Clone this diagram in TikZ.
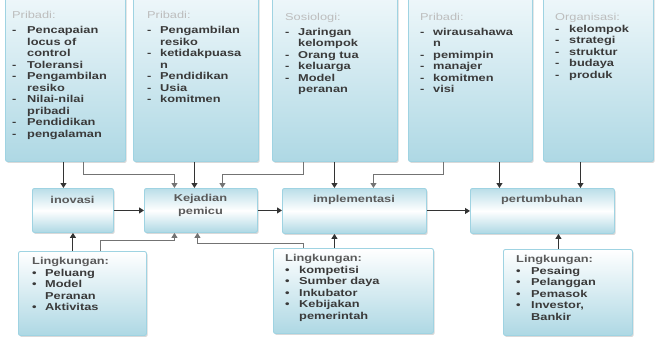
\documentclass[tikz,border=0pt]{standalone}
\usepackage{fontspec}
\setmainfont{Liberation Sans}[FakeStretch=1.28]
\usetikzlibrary{shadows,arrows.meta}
\definecolor{bord}{HTML}{9FD3E2}
\definecolor{bl}{HTML}{AED8E4}
\definecolor{bll}{HTML}{EEF7FA}
\definecolor{hdg}{HTML}{BDBDBD}
\definecolor{txg}{HTML}{3A3A3A}
\definecolor{lng}{HTML}{5A5A5A}
\newcommand{\hdr}[1]{\multicolumn{2}{@{}l@{}}{\color{hdg}\mdseries #1}}
\newcommand{\lhdr}[1]{\multicolumn{2}{@{}l@{}}{\color{lng}#1}}
\tikzset{
 base/.style={draw=bord, line width=0.9pt, rounded corners=2pt, inner sep=0pt, anchor=north west,
   drop shadow={opacity=0.3, shadow xshift=1.2pt, shadow yshift=-1.5pt}},
 topbox/.style={base, top color=bll, bottom color=bl},
 midbox/.style={base, top color=bl!85, bottom color=bl, middle color=white},
 botbox/.style={base, top color=white, bottom color=bl},
 txt/.style={anchor=north west, inner sep=0pt, font=\bfseries\fontsize{10}{11.5}\selectfont, text=txg},
 lab/.style={inner sep=0pt, font=\bfseries\fontsize{10}{13}\selectfont, text=lng, align=center},
 arr/.style={draw=black!80, line width=1pt, -{Triangle[width=6pt,length=5pt]}},
 barr/.style={arr, draw=black!55},
}
\begin{document}
\begin{tikzpicture}[x=1pt,y=-1pt]
\useasboundingbox (0,0) rectangle (656,340);
% top boxes
\node[topbox, minimum width=120pt, minimum height=165pt] (b1) at (5,-4) {};
\node[topbox, minimum width=125pt, minimum height=165pt] (b2) at (133,-4) {};
\node[topbox, minimum width=125pt, minimum height=165pt] (b3) at (272,-4) {};
\node[topbox, minimum width=124pt, minimum height=165pt] (b4) at (408,-4) {};
\node[topbox, minimum width=110pt, minimum height=165pt] (b5) at (543,-4) {};
% middle boxes
\node[midbox, minimum width=81pt, minimum height=44pt] (inov) at (32,188) {};
\node[midbox, minimum width=113pt, minimum height=44pt] (kej) at (144,188) {};
\node[midbox, minimum width=144pt, minimum height=45pt] (impl) at (282,188) {};
\node[midbox, minimum width=144pt, minimum height=45pt] (pert) at (470,188) {};
% bottom boxes
\node[botbox, minimum width=128pt, minimum height=84pt] (l1) at (18,251) {};
\node[botbox, minimum width=160pt, minimum height=85pt] (l2) at (273,248) {};
\node[botbox, minimum width=129pt, minimum height=86pt] (l3) at (503,249) {};
% top texts
\node[txt] (t1) at (12,10.5) {\begin{tabular}{@{}p{15pt}@{}l@{}}
\hdr{Pribadi:}\\[3.5pt]
-&Pencapaian\\ &locus of\\ &control\\
-&Toleransi\\
-&Pengambilan\\ &resiko\\
-&Nilai-nilai\\ &pribadi\\
-&Pendidikan\\
-&pengalaman
\end{tabular}};
\node[txt] (t2) at (147,10.5) {\begin{tabular}{@{}p{13pt}@{}l@{}}
\hdr{Pribadi:}\\[3.5pt]
-&Pengambilan\\ &resiko\\
-&ketidakpuasa\\ &n\\
-&Pendidikan\\
-&Usia\\
-&komitmen
\end{tabular}};
\node[txt] (t3) at (285,12) {\begin{tabular}{@{}p{13pt}@{}l@{}}
\hdr{Sosiologi:}\\[3.5pt]
-&Jaringan\\ &kelompok\\
-&Orang tua\\
-&keluarga\\
-&Model\\ &peranan
\end{tabular}};
\node[txt] (t4) at (420,12) {\begin{tabular}{@{}p{13pt}@{}l@{}}
\hdr{Pribadi:}\\[3.5pt]
-&wirausahawa\\ &n\\
-&pemimpin\\
-&manajer\\
-&komitmen\\
-&visi
\end{tabular}};
\node[txt] (t5) at (555,12) {\begin{tabular}{@{}p{14pt}@{}l@{}}
\hdr{Organisasi:}\\[0.5pt]
-&kelompok\\
-&strategi\\
-&struktur\\
-&budaya\\
-&produk
\end{tabular}};
% middle labels
\node[lab] (linov) at (72.5,200) {inovasi};
\node[lab] (lkej) at (200.5,205.5) {Kejadian\\pemicu};
\node[lab] (limpl) at (354,200) {implementasi};
\node[lab] (lpert) at (542,200) {pertumbuhan};
% bottom texts
\node[txt] (u1) at (32,256.5) {\begin{tabular}{@{}p{13pt}@{}l@{}}
\lhdr{Lingkungan:}\\
\textbullet&Peluang\\
\textbullet&Model\\ &Peranan\\
\textbullet&Aktivitas
\end{tabular}};
\node[txt] (u2) at (285,253.5) {\begin{tabular}{@{}p{14pt}@{}l@{}}
\lhdr{Lingkungan:}\\
\textbullet&kompetisi\\
\textbullet&Sumber daya\\
\textbullet&Inkubator\\
\textbullet&Kebijakan\\ &pemerintah
\end{tabular}};
\node[txt] (u3) at (516,254.5) {\begin{tabular}{@{}p{15pt}@{}l@{}}
\lhdr{Lingkungan:}\\
\textbullet&Pesaing\\
\textbullet&Pelanggan\\
\textbullet&Pemasok\\
\textbullet&Investor,\\ &Bankir
\end{tabular}};
% connectors from top
\draw[arr] ([xshift=-9.5pt]inov.north |- b1.south) -- ([xshift=-9.5pt]inov.north);
\draw[barr] ([xshift=18pt]b1.south) -- ++(0,13) -| ([xshift=-26.5pt]kej.north);
\draw[arr] ([xshift=-6.5pt]kej.north |- b2.south) -- ([xshift=-6.5pt]kej.north);
\draw[barr] ([xshift=-31.5pt]b3.south) -- ++(0,13) -| ([xshift=21.5pt]kej.north);
\draw[arr] ([xshift=-20pt]impl.north |- b3.south) -- ([xshift=-20pt]impl.north);
\draw[barr] ([xshift=-27pt]b4.south) -- ++(0,13) -| ([xshift=19pt]impl.north);
\draw[arr] ([xshift=-43pt]pert.north |- b4.south) -- ([xshift=-43pt]pert.north);
\draw[arr] ([xshift=38pt]pert.north |- b5.south) -- ([xshift=38pt]pert.north);
% horizontal
\draw[arr] (inov.east) -- (inov.east -| kej.west);
\draw[arr] (kej.east) -- (kej.east -| impl.west);
\draw[arr] (impl.east) -- (impl.east -| pert.west);
% from bottom
\draw[arr] (inov.south |- l1.north) -- (inov.south);
\draw[barr] ([xshift=18pt]l1.north) -- ++(0,-11) -| ([xshift=-26.5pt]kej.south);
\draw[barr] ([xshift=-50pt]l2.north) -- ++(0,-5) -| ([xshift=-3.5pt]kej.south);
\draw[arr] ([xshift=-20pt]impl.south |- l2.north) -- ([xshift=-20pt]impl.south);
\draw[arr] ([xshift=16pt]pert.south |- l3.north) -- ([xshift=16pt]pert.south);
\end{tikzpicture}
\end{document}
